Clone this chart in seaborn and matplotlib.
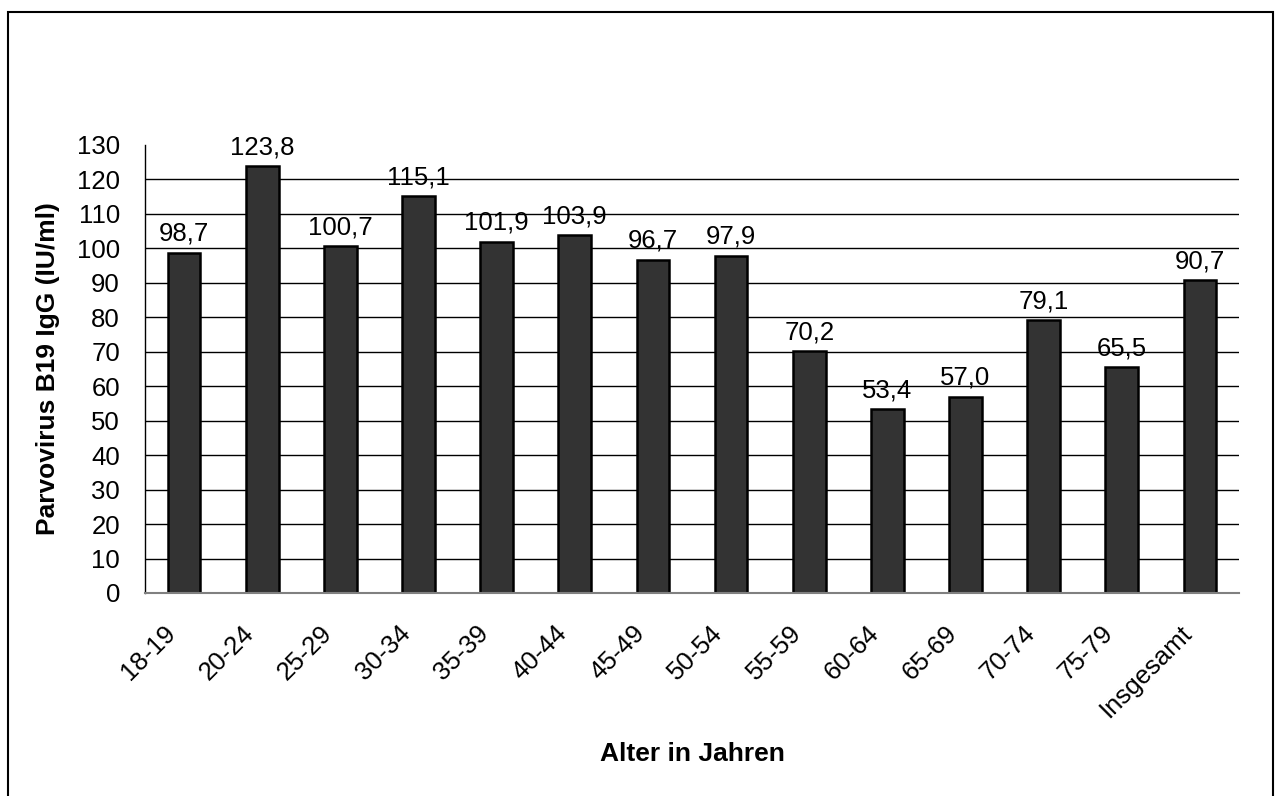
import matplotlib
matplotlib.use("Agg")
import matplotlib.pyplot as plt
from matplotlib.patches import Rectangle
from matplotlib.transforms import ScaledTranslation
import seaborn as sns
import pandas as pd
import numpy as np

# Age groups and mean Parvovirus B19 IgG concentration (IU/ml)
age_groups = ["18-19", "20-24", "25-29", "30-34", "35-39", "40-44", "45-49",
              "50-54", "55-59", "60-64", "65-69", "70-74", "75-79", "Insgesamt"]
igg_values = [98.7, 123.8, 100.7, 115.1, 101.9, 103.9, 96.7,
              97.9, 70.2, 53.4, 57.0, 79.1, 65.5, 90.7]
y_ticks = list(range(0, 131, 10))

df = pd.DataFrame({"Alter": age_groups, "IgG": igg_values})

sns.set_theme(style="white")
plt.rcParams["font.family"] = ["Liberation Sans", "DejaVu Sans"]
plt.rcParams["text.color"] = "black"
plt.rcParams["axes.labelcolor"] = "black"

FS = 18.5

fig = plt.figure(figsize=(12.8, 7.96), dpi=100)
ax = fig.add_axes([145 / 1280, 1 - 593 / 796, (1239 - 145) / 1280, (593 - 145) / 796])

# Horizontal grid lines behind the bars
for yv in y_ticks[1:-1]:
    ax.axhline(yv, color="black", lw=1.0, zorder=0)

sns.barplot(data=df, x="Alter", y="IgG", color="#333333", width=0.42,
            edgecolor="black", linewidth=1.8, saturation=1, ax=ax, zorder=2)

ax.set_xlim(-0.5, len(age_groups) - 0.5)
ax.set_ylim(0, 130)
ax.set_yticks(y_ticks)
ax.set_yticklabels([str(t) for t in y_ticks], fontsize=FS)

# Category labels under bars, ticks on category boundaries
ax.set_xticks(np.arange(len(age_groups)))
ax.set_xticklabels(age_groups, rotation=45, ha="right", va="center",
                   rotation_mode="anchor", fontsize=FS)
ax.tick_params(axis="x", which="major", length=0, pad=26)
shift = ScaledTranslation(-12 / 100, 0, fig.dpi_scale_trans)
for lab in ax.get_xticklabels():
    lab.set_transform(lab.get_transform() + shift)
ax.set_xticks(np.arange(-0.5, len(age_groups)), minor=True)
ax.tick_params(axis="x", which="minor", length=8, width=1, color="black", direction="out")
ax.tick_params(axis="y", length=8, width=1, color="black", direction="out", pad=10)
ax.tick_params(axis="both", labelcolor="black")

for side in ["top", "right"]:
    ax.spines[side].set_visible(False)
ax.spines["left"].set_color("black")
ax.spines["left"].set_linewidth(1.0)
ax.spines["bottom"].set_color("#808080")
ax.spines["bottom"].set_linewidth(1.5)

# Value labels above each bar, German decimal comma
for i, v in enumerate(igg_values):
    ax.annotate(f"{v:.1f}".replace(".", ","), xy=(i, v), xytext=(0, 5),
                textcoords="offset points", ha="center", va="bottom",
                fontsize=FS, color="black")

ax.set_xlabel("Alter in Jahren", fontsize=19, fontweight="bold")
ax.set_ylabel("Parvovirus B19 IgG (IU/ml)", fontsize=19, fontweight="bold")
ax.xaxis.set_label_coords(0.5, (593 - 742) / 448)
ax.yaxis.set_label_coords((60 - 145) / 1094, 0.5)

# Frame around the whole chart area
fig.patches.append(Rectangle((8 / 1280, -0.01), (1273 - 8) / 1280, 1 - 12 / 796 + 0.01,
                             transform=fig.transFigure, fill=False,
                             edgecolor="black", lw=1.5))

fig.savefig("out.png", dpi=100, facecolor="white")
